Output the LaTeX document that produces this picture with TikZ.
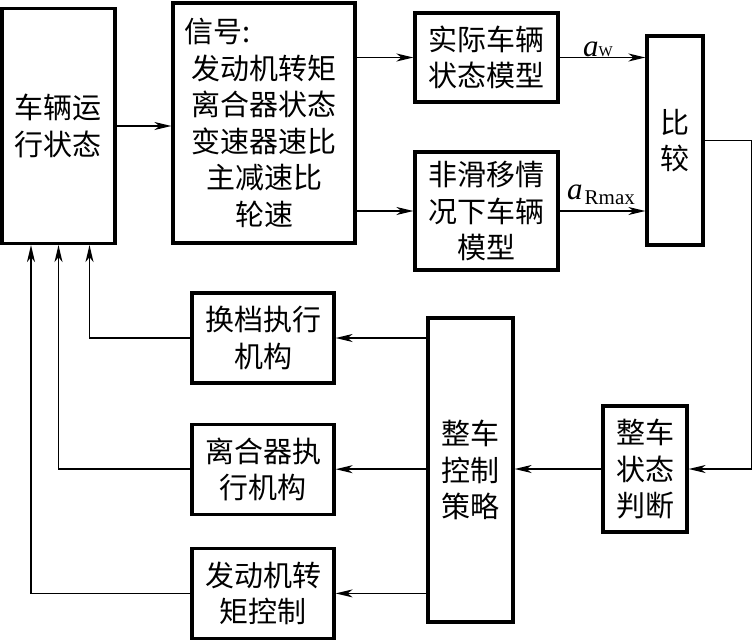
\documentclass[tikz,border=0pt]{standalone}
\usepackage{fontspec}
\setmainfont{Noto Sans CJK SC}
\newfontfamily\timesfont{Liberation Serif}
\usetikzlibrary{positioning}
\usetikzlibrary{arrows.meta}

\begin{document}
\begin{tikzpicture}[x=1pt, y=-1pt,
        box/.style={draw, line width=3.2pt, align=center, inner sep=0pt,
            font=\fontsize{29}{36.5}\selectfont},
        link/.style={line width=1.5pt, -{Stealth[length=17pt, width=8pt, inset=5pt]}},
        lab/.style={inner sep=0pt, anchor=base west, font=\timesfont}]
            \useasboundingbox (0,0) rectangle (753,640);

            \node[box, minimum width=113pt, minimum height=235pt] (state) at (58.5,126) {车辆运\\行状态};
            \node[box, minimum width=182pt, minimum height=240pt] (signal) at (264,123)
                {\makebox[5em][l]{\hspace{-7pt}信号:}\\发动机转矩\\离合器状态\\变速器速比\\主减速比\\轮速};
            \node[box, minimum width=143pt, minimum height=89pt] (real) at (486.5,57.5) {实际车辆\\状态模型};
            \node[box, minimum width=143pt, minimum height=118pt] (ideal) at (486.5,211) {非滑移情\\况下车辆\\模型};
            \node[box, minimum width=56pt, minimum height=209pt] (compare) at (675,140.5) {比\\较};

            \node[box, minimum width=142pt, minimum height=90pt] (shift) at (263,338) {换档执行\\机构};
            \node[box, minimum width=142pt, minimum height=90pt, below = 38pt of shift] (clutch) {离合器执\\行机构};
            \node[box, minimum width=142pt, minimum height=90pt, below = 31pt of clutch] (torque) {发动机转\\矩控制};
            \node[box, minimum width=85pt, minimum height=304pt] (strategy) at (470.5,470) {整车\\控制\\策略};
            \node[box, minimum width=84pt, minimum height=126pt] (judge) at (645,469) {整车\\状态\\判断};

            \node[lab] (aw) at (583,56) {{\fontsize{31}{31}\selectfont\itshape a}{\fontsize{15}{15}\selectfont W}};
            \node[lab] (ar) at (567,199) {{\fontsize{31}{31}\selectfont\itshape a}\hspace{2pt}\raisebox{-5pt}{\fontsize{21}{21}\selectfont Rmax}};

            \draw[link] (state.east) -- (state.east -| signal.west);
            \draw[link] (signal.east |- real.west) -- (real.west);
            \draw[link] (signal.east |- ideal.west) -- (ideal.west);
            \draw[link] (real.east) -- (real.east -| compare.west);
            \draw[link] (ideal.east) -- (ideal.east -| compare.west);
            \draw[link] (compare.east) -- ++(47,0) |- (judge.east);
            \draw[link] (judge.west) -- (judge.west -| strategy.east);

            \draw[link] (strategy.west |- shift.east) -- (shift.east);
            \draw[link] (strategy.west |- clutch.east) -- (clutch.east);
            \draw[link] (strategy.west |- torque.east) -- (torque.east);

            \draw[link] (shift.west) -| ([xshift=31pt]state.south);
            \draw[link] (clutch.west) -| (state.south);
            \draw[link] (torque.west) -| ([xshift=-27.5pt]state.south);
        \end{tikzpicture}
\end{document}
